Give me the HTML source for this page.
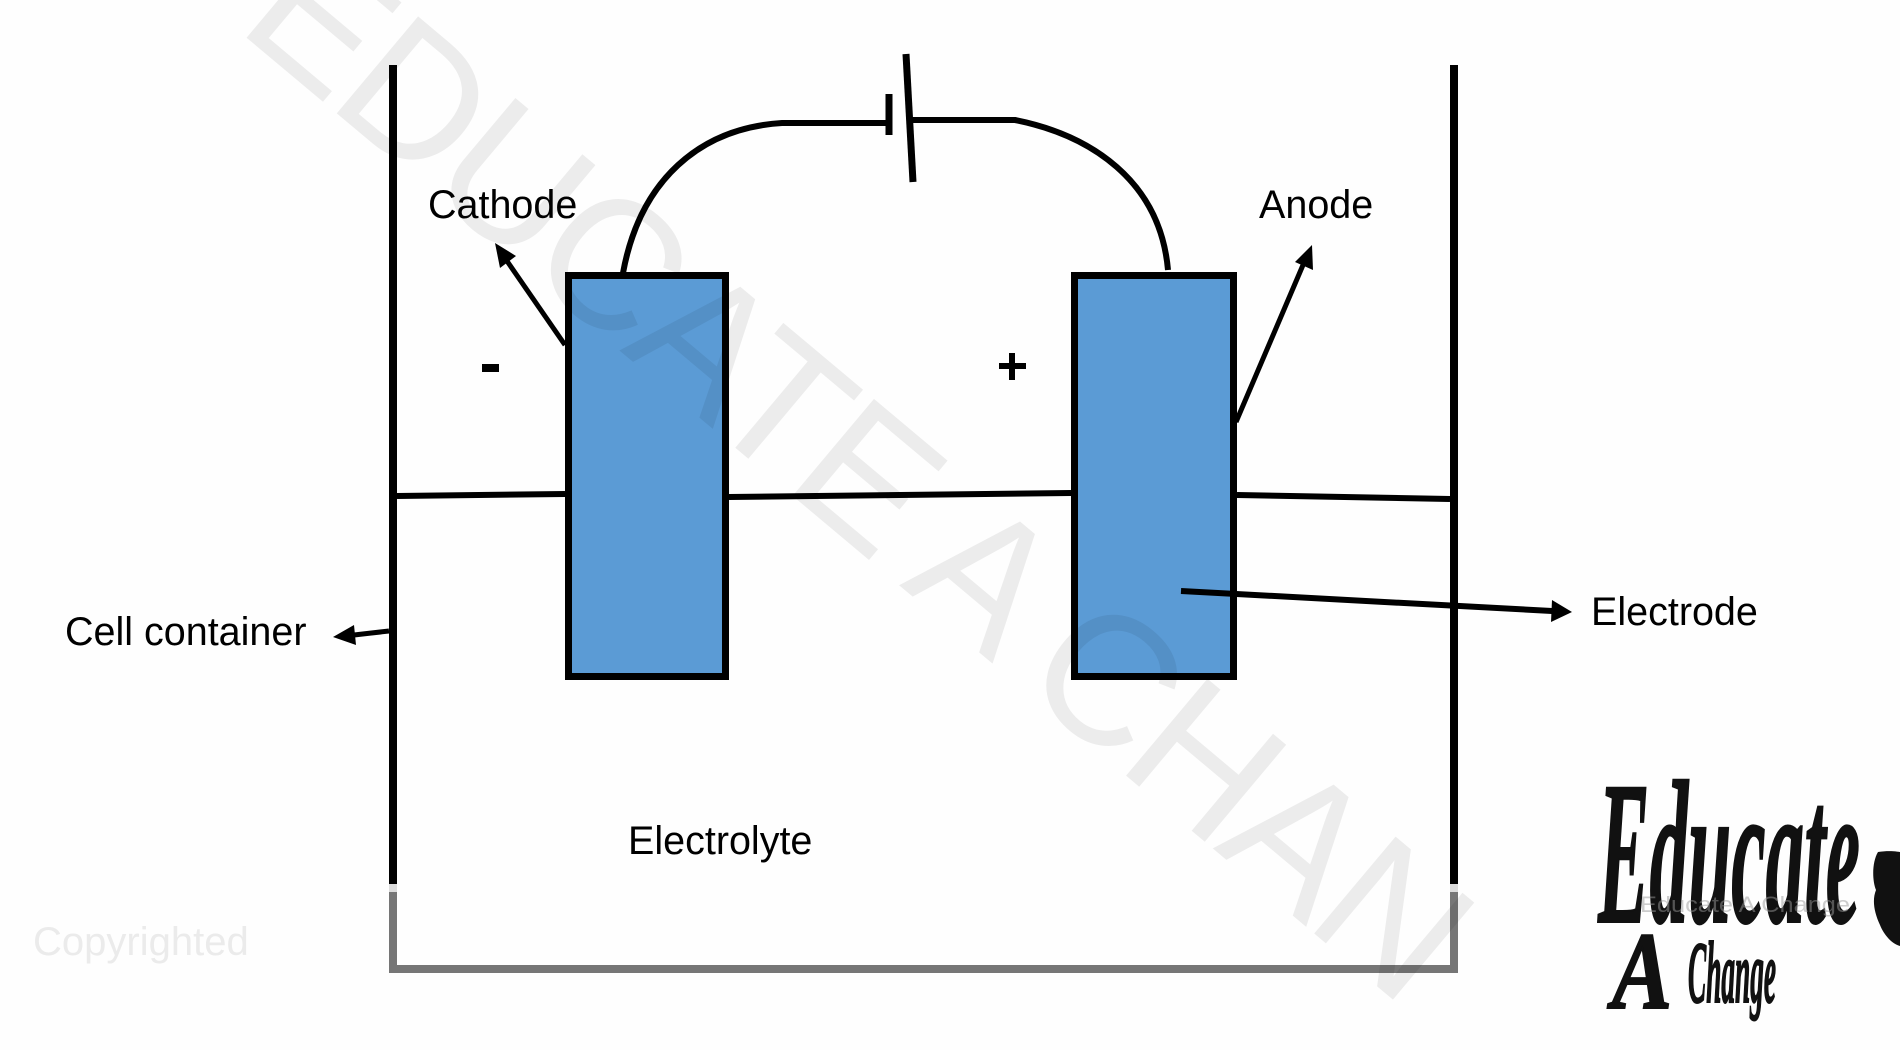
<!DOCTYPE html>
<html>
<head>
<meta charset="utf-8">
<style>
  html, body { margin: 0; padding: 0; background: #fefefe; overflow: hidden; }
  body { width: 1900px; height: 1050px; overflow: hidden; }
  svg { display: block; overflow: hidden; }
  .lbl { font-family: "Liberation Sans", "DejaVu Sans", sans-serif; font-size: 39.5px; fill: #000; }
</style>
</head>
<body>
<svg width="1900" height="1050" viewBox="0 0 1900 1050" xmlns="http://www.w3.org/2000/svg">
  <defs>
    <clipPath id="frame"><rect x="0" y="0" width="1900" height="1050"/></clipPath>
  </defs>
  <rect x="0" y="0" width="1900" height="1050" fill="#fefefe"/>

  <!-- Container -->
  <line x1="393" y1="65" x2="393" y2="884" stroke="#000" stroke-width="8"/>
  <line x1="1454" y1="65" x2="1454" y2="884" stroke="#000" stroke-width="8"/>
  <line x1="393" y1="884" x2="393" y2="892" stroke="#dcdcdc" stroke-width="8"/>
  <line x1="1454" y1="884" x2="1454" y2="892" stroke="#dcdcdc" stroke-width="8"/>
  <polyline points="393,892 393,969 1454,969 1454,892" fill="none" stroke="#767676" stroke-width="8"/>

  <!-- Electrolyte surface line -->
  <line x1="397" y1="496" x2="565" y2="494" stroke="#000" stroke-width="6"/>
  <line x1="729" y1="497" x2="1071" y2="493" stroke="#000" stroke-width="6"/>
  <line x1="1237" y1="495" x2="1450" y2="499" stroke="#000" stroke-width="6"/>

  <!-- Electrodes -->
  <rect x="568.5" y="275.5" width="157" height="401" fill="#5b9bd5" stroke="#000" stroke-width="7"/>
  <rect x="1074.5" y="275.5" width="159" height="401" fill="#5b9bd5" stroke="#000" stroke-width="7"/>

  <!-- Wire + battery -->
  <path d="M623,273 C640,180 700,128 782,123 L889,123" fill="none" stroke="#000" stroke-width="6"/>
  <line x1="889" y1="94" x2="889" y2="135" stroke="#000" stroke-width="7"/>
  <line x1="906" y1="54" x2="913" y2="182" stroke="#000" stroke-width="7"/>
  <path d="M911,120 L1015,120 C1090,135 1160,180 1168,270" fill="none" stroke="#000" stroke-width="6"/>

  <!-- Signs -->
  <rect x="482" y="364" width="17" height="8" fill="#000"/>
  <rect x="999" y="363" width="27" height="6" fill="#000"/>
  <rect x="1009" y="353" width="6" height="27" fill="#000"/>

  <!-- Arrows -->
  <line x1="565" y1="345" x2="507" y2="261" stroke="#000" stroke-width="5"/>
  <polygon points="495,243 516,256 500,268" fill="#000"/>

  <line x1="1236" y1="422" x2="1303" y2="265" stroke="#000" stroke-width="5"/>
  <polygon points="1312,245 1313,270 1295,262" fill="#000"/>

  <line x1="389" y1="631" x2="354" y2="635" stroke="#000" stroke-width="5"/>
  <polygon points="333,637 356,645 354,625" fill="#000"/>

  <line x1="1181" y1="591" x2="1552" y2="611" stroke="#000" stroke-width="6"/>
  <polygon points="1572,612 1551,622 1552,600" fill="#000"/>

  <!-- Labels -->
  <text class="lbl" x="428" y="218">Cathode</text>
  <text class="lbl" x="1259" y="218">Anode</text>
  <text class="lbl" x="65" y="645">Cell container</text>
  <text class="lbl" x="1591" y="625">Electrode</text>
  <text class="lbl" x="628" y="854">Electrolyte</text>

  <text x="33" y="955" font-family="Liberation Sans, sans-serif" font-size="40" fill="#ebebeb">Copyrighted</text>

  <!-- Logo -->
  <g font-family="Liberation Serif, DejaVu Serif, serif" font-style="italic" font-weight="bold" fill="#111" stroke="#111" stroke-width="2">
    <text x="1598" y="922" font-size="205" textLength="262" lengthAdjust="spacingAndGlyphs">Educate</text>
    <text x="1612" y="1008" font-size="110" textLength="60" lengthAdjust="spacingAndGlyphs">A</text>
    <text x="1688" y="1002" font-size="88" textLength="88" lengthAdjust="spacingAndGlyphs">Change</text>
  </g>
  <text x="1640" y="912" font-family="Liberation Sans, sans-serif" font-size="22" fill="#999" fill-opacity="0.5" textLength="210" lengthAdjust="spacingAndGlyphs">Educate A Change</text>
  <path d="M1878,852 C1890,850 1900,852 1900,852 L1900,946 C1892,944 1884,935 1880,925 C1874,912 1872,900 1876,890 C1872,880 1872,862 1878,852 Z" fill="#111"/>

  <!-- Watermark -->
  <svg x="0" y="0" width="1900" height="1050" viewBox="0 0 1900 1050" overflow="hidden">
    <g clip-path="url(#frame)">
      <text transform="translate(235,28) rotate(40)" x="0" y="0" font-family="Liberation Sans, sans-serif" font-size="184" letter-spacing="-5" fill="#000" fill-opacity="0.07">EDUCATE A CHAN</text>
    </g>
  </svg>
</svg>
</body>
</html>
